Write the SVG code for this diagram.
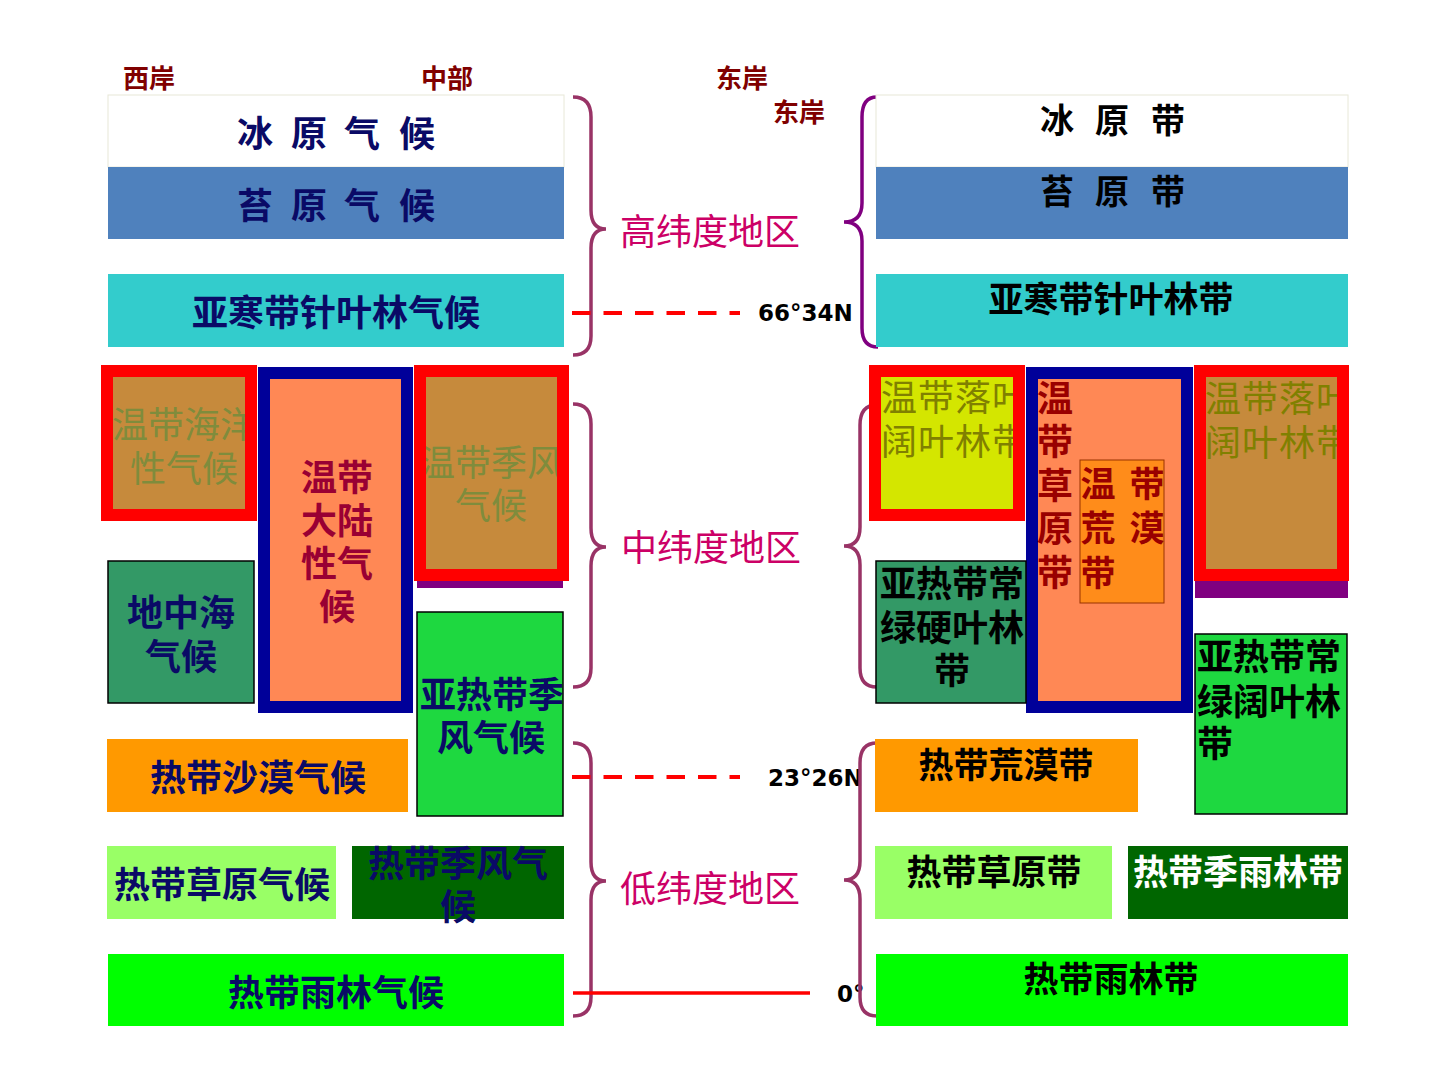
<svg xmlns="http://www.w3.org/2000/svg" width="1440" height="1080" viewBox="0 0 1440 1080">
<style>
.cn{font-family:"Noto Sans CJK SC","Noto Sans",sans-serif;font-size:36px;font-weight:bold}
.c34{font-size:34px}
.c35{font-size:35px}
.hd{font-family:"Noto Sans CJK SC",sans-serif;font-size:26px;fill:#800000;font-weight:bold}
.lat{font-family:"DejaVu Sans",sans-serif;font-size:23px;font-weight:bold;fill:#000}
.mid{text-anchor:middle}
.navy{fill:#0a0a66}
.blk{fill:#000}
.wht{fill:#fff}
.lbl{fill:#cc0066;font-weight:normal}
.olv{fill:#7f8c3c;font-weight:normal}
.olv2{fill:#808000;font-weight:normal}
.drk{fill:#990033}
.drd{fill:#990000}
.box{stroke:#000;stroke-width:1.5}
.redb{stroke:#ff0000;stroke-width:12;fill:#c68a3c}
.blub{stroke:#000099;stroke-width:12;fill:#ff8855}
.brace{fill:none;stroke:#993366;stroke-width:3.5}
</style>
<defs>
<clipPath id="cl1"><rect x="113" y="377" width="132" height="132"/></clipPath>
<clipPath id="cl2"><rect x="426" y="377" width="131" height="192"/></clipPath>
<clipPath id="cl3"><rect x="881" y="377" width="132" height="132"/></clipPath>
<clipPath id="cl4"><rect x="1206" y="377" width="131" height="192"/></clipPath>
</defs>
<rect width="1440" height="1080" fill="#fff"/>

<g id="headers">
<text class="hd mid" x="149" y="88">西岸</text>
<text class="hd mid" x="447" y="88">中部</text>
<text class="hd mid" x="742" y="88">东岸</text>
<text class="hd mid" x="799" y="122">东岸</text>
</g>

<g id="connectors">
<path class="brace" d="M573 97 Q591 97 591 117 L591 210 Q591 229 606 229 Q591 229 591 248 L591 336 Q591 355 573 355"/>
<path class="brace" d="M573 404 Q591 404 591 424 L591 528 Q591 547 606 547 Q591 547 591 566 L591 668 Q591 687 573 687"/>
<path class="brace" d="M573 743 Q591 743 591 763 L591 862 Q591 881 606 881 Q591 881 591 900 L591 997 Q591 1016 573 1016"/>
<line x1="572" y1="313" x2="740" y2="313" stroke="#ff0000" stroke-width="4" stroke-dasharray="18.5 13"/>
<line x1="572" y1="777" x2="740" y2="777" stroke="#ff0000" stroke-width="4" stroke-dasharray="18.5 13"/>
<line x1="573" y1="993" x2="810" y2="993" stroke="#ff0000" stroke-width="3.5"/>
</g>

<g id="labels">
<text class="cn lbl mid" x="710" y="245">高纬度地区</text>
<text class="cn lbl mid" x="711" y="561">中纬度地区</text>
<text class="cn lbl mid" x="710" y="902">低纬度地区</text>
<text class="lat" x="758" y="321">66°34N</text>
<text class="lat" x="768" y="786">23°26N</text>
<text class="lat" x="837" y="1002">0°</text>
</g>

<g id="connectors-right">
<path class="brace" style="stroke:#800080" d="M877 97 Q862 97 862 117 L862 203 Q862 222 844 222 Q862 222 862 241 L862 328 Q862 347 878 347"/>
<path class="brace" d="M877 405 Q860 405 860 425 L860 527 Q860 546 844 546 Q860 546 860 565 L860 668 Q860 687 877 687"/>
<path class="brace" d="M877 743 Q860 743 860 763 L860 861 Q860 880 844 880 Q860 880 860 899 L860 997 Q860 1016 877 1016"/>
</g>

<g id="n-bingyuan-qihou">
<rect x="108" y="95" width="456" height="72" fill="#fff" stroke="#e8e8d8" stroke-width="1"/>
<text class="cn navy mid" x="255 309 362 417" y="147">冰原气候</text>
</g>
<g id="n-taiyuan-qihou">
<rect x="108" y="167" width="456" height="72" fill="#4f81bd"/>
<text class="cn navy mid" x="255 309 362 417" y="219">苔原气候</text>
</g>
<g id="n-yahan-qihou">
<rect x="108" y="274" width="456" height="73" fill="#33cccc"/>
<text class="cn navy mid" x="336" y="326">亚寒带针叶林气候</text>
</g>
<g id="n-haiyang">
<rect class="redb" x="107" y="371" width="144" height="144"/>
<text class="cn olv mid" clip-path="url(#cl1)"><tspan x="184" y="438">温带海洋</tspan><tspan x="184" y="482">性气候</tspan></text>
</g>
<g id="n-dalu">
<rect class="blub" x="264" y="373" width="143" height="334"/>
<text class="cn drk mid"><tspan x="337" y="491">温带</tspan><tspan x="337" y="534">大陆</tspan><tspan x="337" y="577">性气</tspan><tspan x="337" y="620">候</tspan></text>
</g>
<g id="n-jifeng-wendai">
<rect x="417" y="560" width="146" height="28" fill="#800080"/>
<rect class="redb" x="420" y="371" width="143" height="204"/>
<text class="cn olv mid" clip-path="url(#cl2)"><tspan x="491" y="476">温带季风</tspan><tspan x="491" y="519">气候</tspan></text>
</g>
<g id="n-dizhonghai">
<rect class="box" x="108" y="561" width="146" height="142" fill="#339966"/>
<text class="cn navy mid"><tspan x="181" y="626">地中海</tspan><tspan x="181" y="670">气候</tspan></text>
</g>
<g id="n-yare-jifeng">
<rect class="box" x="417" y="612" width="146" height="204" fill="#1ed840"/>
<text class="cn navy mid"><tspan x="492" y="708">亚热带季</tspan><tspan x="491" y="751">风气候</tspan></text>
</g>
<g id="n-shamo">
<rect x="107" y="739" width="301" height="73" fill="#ff9900"/>
<text class="cn navy mid" x="258" y="791">热带沙漠气候</text>
</g>
<g id="n-caoyuan">
<rect x="107" y="846" width="229" height="73" fill="#99ff66"/>
<text class="cn navy mid" x="222" y="898">热带草原气候</text>
</g>
<g id="n-redai-jifeng">
<rect x="352" y="846" width="212" height="73" fill="#006600"/>
<text class="cn navy mid"><tspan x="458" y="877">热带季风气</tspan><tspan x="458" y="920">候</tspan></text>
</g>
<g id="n-yulin">
<rect x="108" y="954" width="456" height="72" fill="#00ff00"/>
<text class="cn navy mid" x="336" y="1006">热带雨林气候</text>
</g>

<g id="r-bingyuan">
<rect x="876" y="95" width="472" height="72" fill="#fff" stroke="#e8e8d8" stroke-width="1"/>
<text class="cn c34 blk mid" x="1057 1112 1168" y="133">冰原带</text>
</g>
<g id="r-taiyuan">
<rect x="876" y="167" width="472" height="72" fill="#4f81bd"/>
<text class="cn c34 blk mid" x="1057 1112 1168" y="204">苔原带</text>
</g>
<g id="r-yahan">
<rect x="876" y="274" width="472" height="73" fill="#33cccc"/>
<text class="cn c35 blk mid" x="1111" y="312">亚寒带针叶林带</text>
</g>
<g id="r-luoye1">
<rect x="875" y="371" width="144" height="144" fill="#d4e600" stroke="#ff0000" stroke-width="12"/>
<text class="cn olv2" letter-spacing="1" clip-path="url(#cl3)"><tspan x="881" y="411">温带落叶</tspan><tspan x="881" y="455">阔叶林带</tspan></text>
</g>
<g id="r-caoyuan">
<rect class="blub" x="1032" y="373" width="155" height="334"/>
<text class="cn drd mid"><tspan x="1055" y="412">温</tspan><tspan x="1055" y="455">带</tspan><tspan x="1055" y="499">草</tspan><tspan x="1055" y="542">原</tspan><tspan x="1055" y="586">带</tspan></text>
</g>
<g id="r-huangmo">
<rect x="1080" y="460" width="84" height="143" fill="#ff8c1a" stroke="#993300" stroke-width="1"/>
<text class="cn c35 drd mid"><tspan x="1098 1147" y="497">温带</tspan><tspan x="1098 1147" y="541">荒漠</tspan><tspan x="1098" y="586">带</tspan></text>
</g>
<g id="r-luoye2">
<rect x="1195" y="560" width="153" height="38" fill="#800080"/>
<rect class="redb" x="1200" y="371" width="143" height="204"/>
<text class="cn olv2" letter-spacing="1" clip-path="url(#cl4)"><tspan x="1205" y="412">温带落叶</tspan><tspan x="1205" y="456">阔叶林带</tspan></text>
</g>
<g id="r-yingye">
<rect class="box" x="876" y="561" width="150" height="142" fill="#339966"/>
<text class="cn blk mid"><tspan x="952" y="597">亚热带常</tspan><tspan x="952" y="641">绿硬叶林</tspan><tspan x="952" y="684">带</tspan></text>
</g>
<g id="r-kuoye">
<rect class="box" x="1195" y="634" width="152" height="180" fill="#1ed840"/>
<text class="cn blk"><tspan x="1197" y="670">亚热带常</tspan><tspan x="1197" y="715">绿阔叶林</tspan><tspan x="1197" y="757">带</tspan></text>
</g>
<g id="r-redai-huangmo">
<rect x="875" y="739" width="263" height="73" fill="#ff9900"/>
<text class="cn c35 blk mid" x="1006" y="778">热带荒漠带</text>
</g>
<g id="r-redai-caoyuan">
<rect x="875" y="846" width="237" height="73" fill="#99ff66"/>
<text class="cn c35 blk mid" x="994" y="885">热带草原带</text>
</g>
<g id="r-jiyulin">
<rect x="1128" y="846" width="220" height="73" fill="#006600"/>
<text class="cn c35 wht mid" x="1238" y="885">热带季雨林带</text>
</g>
<g id="r-yulin">
<rect x="876" y="954" width="472" height="72" fill="#00ff00"/>
<text class="cn c35 blk mid" x="1111" y="992">热带雨林带</text>
</g>
</svg>
